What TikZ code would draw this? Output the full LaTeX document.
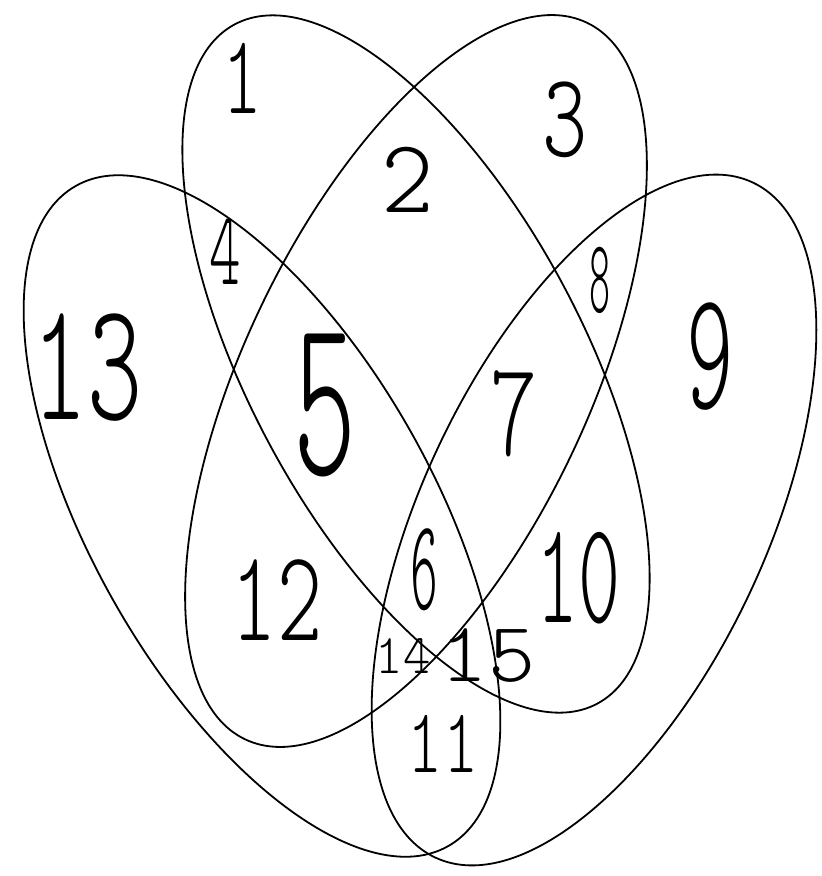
\documentclass[tikz,border=0pt]{standalone}
\usepackage{fontspec}
\newfontfamily\hand{lmmonolt10-regular.otf}
\begin{document}
\begin{tikzpicture}[x=1pt,y=-1pt,
  ell/.style={draw=black, line width=1.8pt},
  lbl/.style={inner sep=0pt, font=\hand\fontsize{100}{100}\selectfont}]
\useasboundingbox[fill=white] (0,0) rectangle (822,876);
% four ellipses
\draw[ell, rotate around={-60.6:(262,516)}] (262,516) ellipse [x radius=379, y radius=171];
\draw[ell, rotate around={-61.9:(416,364)}] (416,364) ellipse [x radius=385, y radius=167];
\draw[ell, rotate around={64.5:(416,381)}] (416,381) ellipse [x radius=397, y radius=172];
\draw[ell, rotate around={64.8:(594,520)}] (594,520) ellipse [x radius=373, y radius=172];
% labels
\node[lbl, xscale=.76, yscale=1.13] (n1) at (242,78) {1};
\node[lbl, xscale=1.0, yscale=1.05] (n2) at (408,180) {2};
\node[lbl, xscale=.86, yscale=1.2] (n3) at (565,120) {3};
\node[lbl, xscale=.6, yscale=1.05] (n4) at (225,252) {4};
\node[lbl, xscale=1.05, yscale=1.7] (n13) at (88,368) {13};
\node[lbl, xscale=1.2, yscale=2.3] (n5) at (325,405) {5};
\node[lbl, xscale=.4, yscale=1.05] (n8) at (600,280) {8};
\node[lbl, xscale=.9, yscale=1.7] (n9) at (710,357) {9};
\node[lbl, xscale=.9, yscale=1.35] (n7) at (514,414) {7};
\node[lbl, xscale=.86, yscale=1.3] (n12) at (277,600) {12};
\node[lbl, xscale=.53, yscale=1.3] (n6) at (424,570) {6};
\node[lbl, xscale=.8, yscale=1.45] (n10) at (578,578) {10};
\node[lbl, xscale=.52, yscale=.56] (n14) at (403,656) {14};
\node[lbl, xscale=.9, yscale=.85] (n15) at (488,656) {15};
\node[lbl, xscale=.67, yscale=.92] (n11) at (443,744) {11};
\end{tikzpicture}
\end{document}
